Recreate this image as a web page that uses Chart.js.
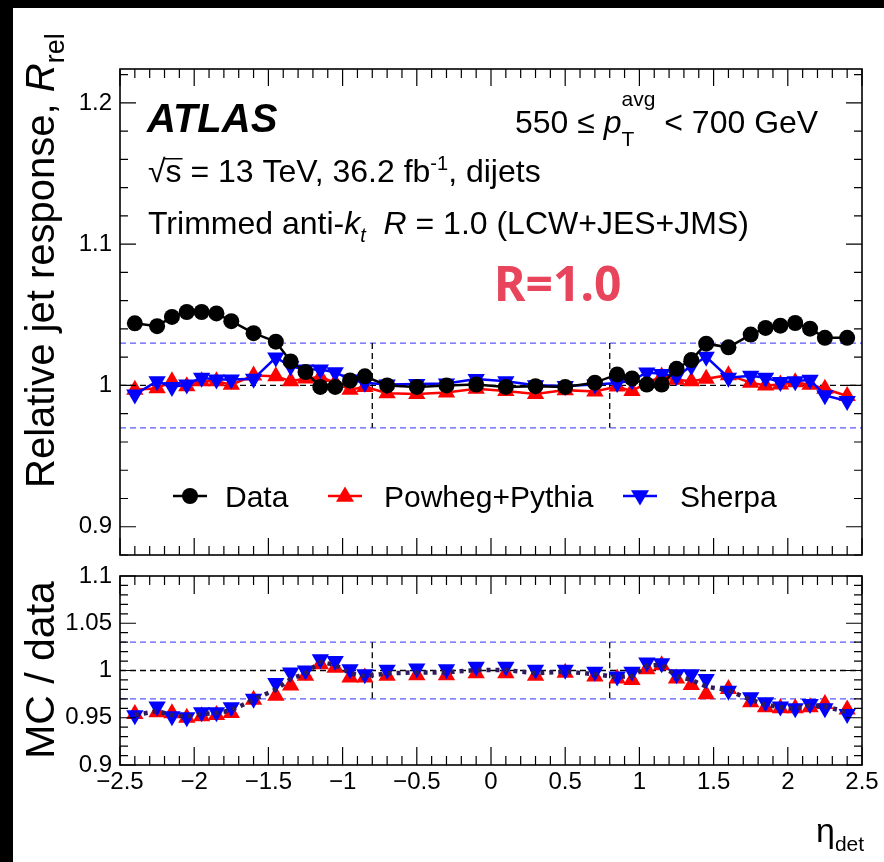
<!DOCTYPE html>
<html>
<head>
<meta charset="utf-8">
<script src="https://cdn.jsdelivr.net/npm/chart.js@4.4.1/dist/chart.umd.min.js"></script>
<style>
  html, body { margin: 0; padding: 0; background: #fff; overflow: hidden; }
  #page { position: relative; width: 884px; height: 862px; background: #fff; overflow: hidden; }
  #page canvas { position: absolute; left: 0; top: 0; }
  .band { position: absolute; background: #000; z-index: 5; }
</style>
</head>
<body>
<div id="page">
  <canvas id="c-top" width="884" height="862"></canvas>
  <canvas id="c-ratio" width="884" height="862"></canvas>
  <div class="band" style="left:0;top:0;width:13px;height:862px"></div>
  <div class="band" style="left:0;top:0;width:884px;height:8px"></div>
</div>
<script>
// eta bin centres
var eta = [-2.4, -2.25, -2.15, -2.05, -1.95, -1.85, -1.75, -1.6, -1.45, -1.35, -1.25, -1.15, -1.05, -0.95, -0.85,
  -0.7, -0.5, -0.3, -0.1, 0.1, 0.3, 0.5, 0.7,
  0.85, 0.95, 1.05, 1.15, 1.25, 1.35, 1.45, 1.6, 1.75, 1.85, 1.95, 2.05, 2.15, 2.25, 2.4];

// relative response, top panel
var respData = [1.044, 1.042, 1.0485, 1.052, 1.052, 1.051, 1.0455, 1.037, 1.031, 1.017, 1.0095, 0.999, 0.999, 1.0035, 1.0065,
  1.000, 0.999, 1.000, 1.0007, 0.999, 0.9995, 0.999, 1.002,
  1.0078, 1.005, 1.0007, 1.0007, 1.0118, 1.018, 1.0296, 1.027, 1.036, 1.0407, 1.0423, 1.0442, 1.0402, 1.0337, 1.0337];
var respPowheg = [0.997, 0.998, 1.003, 0.9995, 1.003, 1.003, 1.0005, 1.007, 1.0066, 1.003, 1.005, 1.006, 1.002, 0.997, 0.999,
  0.9945, 0.994, 0.995, 0.9977, 0.996, 0.994, 0.9967, 0.9957,
  0.9993, 0.996, 1.002, 1.0063, 1.004, 1.003, 1.0047, 1.0073, 1.002, 1.000, 1.0006, 1.0022, 1.0005, 0.9977, 0.9925];
var respSherpa = [0.9936, 1.003, 0.999, 1.0007, 1.0054, 1.0042, 1.0042, 1.0047, 1.0198, 1.0136, 1.0113, 1.0113, 1.0094, 1.0042, 1.002,
  1.0007, 1.001, 1.0014, 1.0045, 1.003, 1.0002, 0.9997, 1.0006,
  1.0017, 1.0035, 1.0092, 1.0082, 1.0065, 1.0137, 1.0203, 1.0055, 1.0068, 1.0055, 1.0025, 1.003, 1.004, 0.993, 0.989];

// MC / data, bottom panel
var ratioPowheg = [0.954, 0.9558, 0.9547, 0.950, 0.9516, 0.953, 0.955, 0.969, 0.9733, 0.984, 0.9944, 1.0067, 1.003, 0.9926, 0.9926,
  0.9944, 0.995, 0.995, 0.997, 0.997, 0.9944, 0.9977, 0.9937,
  0.9916, 0.990, 1.0014, 1.0056, 0.9916, 0.9846, 0.975, 0.9803, 0.9663, 0.961, 0.960, 0.960, 0.961, 0.9645, 0.9586];
var ratioSherpa = [0.9526, 0.9618, 0.9516, 0.9505, 0.9558, 0.9558, 0.961, 0.970, 0.9867, 0.998, 1.000, 1.012, 1.010, 1.0014, 0.996,
  1.0007, 1.002, 1.0014, 1.004, 1.004, 1.0007, 1.0007, 0.9986,
  0.9937, 0.9986, 1.0084, 1.0077, 0.996, 0.996, 0.9909, 0.9786, 0.9716, 0.9663, 0.962, 0.960, 0.9645, 0.960, 0.954];
var ratioMean = [0.953, 0.957, 0.953, 0.951, 0.954, 0.955, 0.958, 0.969, 0.980, 0.991, 0.997, 1.009, 1.006, 0.997, 0.994,
  0.997, 0.998, 0.998, 1.0005, 1.0005, 0.997, 0.999, 0.996,
  0.993, 0.994, 1.005, 1.006, 0.994, 0.990, 0.983, 0.979, 0.969, 0.964, 0.961, 0.960, 0.963, 0.962, 0.956];

var xTicks = [-2.5, -2, -1.5, -1, -0.5, 0, 0.5, 1, 1.5, 2, 2.5];
var topTicks = [0.9, 1, 1.1, 1.2];
var ratioTicks = [0.9, 0.95, 1, 1.05, 1.1];

var FONT = "'Liberation Sans', Arial, Helvetica, sans-serif";
var BLUE_DASH = '#5a5aff';

function pts(ys) {
  return eta.map(function (x, i) { return { x: x, y: ys[i] }; });
}

function fmt(v) {
  var s = String(+v.toFixed(2));
  return s.replace('-', '\u2212');
}

// ROOT like frame with inner ticks on all four sides
function frame(chart, o) {
  var ctx = chart.ctx, a = chart.chartArea, xs = chart.scales.x, ys = chart.scales.y;
  ctx.save();
  ctx.strokeStyle = '#000';
  ctx.lineWidth = 1.2;
  ctx.beginPath();
  for (var i = 0; i <= 50; i++) {
    var px = xs.getPixelForValue(-2.5 + i * 0.1);
    var len = i % 5 === 0 ? o.xMajor : o.xMinor;
    ctx.moveTo(px, a.bottom); ctx.lineTo(px, a.bottom - len);
    ctx.moveTo(px, a.top); ctx.lineTo(px, a.top + len);
  }
  var n = Math.round((o.yMax - o.yMin) / o.yStep);
  for (var j = 0; j <= n; j++) {
    var v = o.yMin + j * o.yStep;
    var py = ys.getPixelForValue(v);
    if (py < a.top - 0.5 || py > a.bottom + 0.5) continue;
    var major = Math.abs(v / o.yMajorStep - Math.round(v / o.yMajorStep)) < 1e-6;
    var l = major ? o.yMajor : o.yMinor;
    ctx.moveTo(a.left, py); ctx.lineTo(a.left + l, py);
    ctx.moveTo(a.right, py); ctx.lineTo(a.right - l, py);
  }
  ctx.stroke();
  ctx.lineWidth = 1.6;
  ctx.strokeRect(a.left, a.top, a.right - a.left, a.bottom - a.top);
  ctx.restore();
}

function refLines(chart) {
  var ctx = chart.ctx, a = chart.chartArea, xs = chart.scales.x, ys = chart.scales.y;
  ctx.save();
  ctx.lineWidth = 1.3;
  ctx.setLineDash([6, 4]);
  ctx.strokeStyle = BLUE_DASH;
  [1.03, 0.97].forEach(function (v) {
    var py = ys.getPixelForValue(v);
    ctx.beginPath(); ctx.moveTo(a.left, py); ctx.lineTo(a.right, py); ctx.stroke();
  });
  ctx.strokeStyle = '#000';
  var p1 = ys.getPixelForValue(1);
  ctx.beginPath(); ctx.moveTo(a.left, p1); ctx.lineTo(a.right, p1); ctx.stroke();
  [-0.8, 0.8].forEach(function (v) {
    var px = xs.getPixelForValue(v);
    ctx.beginPath();
    ctx.moveTo(px, ys.getPixelForValue(1.03));
    ctx.lineTo(px, ys.getPixelForValue(0.97));
    ctx.stroke();
  });
  ctx.restore();
}

// draw text runs: [text, font, dy, advance?]
function runs(ctx, x, y, list) {
  list.forEach(function (r) {
    ctx.font = r[1];
    ctx.fillText(r[0], x, y + (r[2] || 0));
    if (r[3] !== false) x += ctx.measureText(r[0]).width;
  });
  return x;
}

function marker(ctx, type, x, y, r, color) {
  ctx.fillStyle = color;
  ctx.beginPath();
  if (type === 'circle') {
    ctx.arc(x, y, r, 0, Math.PI * 2);
  } else {
    var s = type === 'up' ? 1 : -1;
    ctx.moveTo(x, y - s * r);
    ctx.lineTo(x + r * 0.95, y + s * r * 0.6);
    ctx.lineTo(x - r * 0.95, y + s * r * 0.6);
    ctx.closePath();
  }
  ctx.fill();
}

var topDeco = {
  id: 'topDeco',
  beforeDatasetsDraw: function (chart) { refLines(chart); },
  afterDatasetsDraw: function (chart) {
    frame(chart, { xMajor: 17, xMinor: 9, yMin: 0.88, yMax: 1.22, yStep: 0.02, yMajorStep: 0.1, yMajor: 16, yMinor: 8 });
  },
  afterDraw: function (chart) {
    var ctx = chart.ctx;
    ctx.save();
    ctx.fillStyle = '#000';
    ctx.textBaseline = 'alphabetic';
    ctx.textAlign = 'left';

    ctx.font = 'italic bold 40px ' + FONT;
    ctx.fillText('ATLAS', 147, 132);

    var f = '32px ' + FONT, fi = 'italic 32px ' + FONT, fs = '21px ' + FONT;
    runs(ctx, 515, 133, [
      ['550 \u2264 ', f], ['p', fi], ['T', fs, 13, false], ['avg', fs, -27], [' < 700 GeV', f]
    ]);

    var g = '32px ' + FONT, gi = 'italic 32px ' + FONT, gs = '20px ' + FONT;
    var xs = runs(ctx, 148, 182, [['\u221A', g]]);
    ctx.font = g;
    var sw = ctx.measureText('s').width;
    ctx.fillRect(xs - 1, 158, sw + 2, 1.5);
    runs(ctx, xs, 182, [['s = 13 TeV, 36.2 fb', g], ['-1', gs, -12], [', dijets', g]]);

    runs(ctx, 148, 234, [
      ['Trimmed anti-', g], ['k', gi], ['t', 'italic 20px ' + FONT, 8], ['  ', g], ['R', gi], [' = 1.0 (LCW+JES+JMS)', g]
    ]);

    ctx.fillStyle = '#e8445b';
    ctx.font = "bold 48px 'Noto Sans', 'Open Sans', sans-serif";
    ctx.fillText('R=1.0', 494, 301);

    // legend
    var ly = 496, lf = '30px ' + FONT;
    var items = [
      { x: 190, tx: 225, type: 'circle', color: '#000', text: 'Data' },
      { x: 345, tx: 384, type: 'up', color: '#ff0000', text: 'Powheg+Pythia' },
      { x: 640, tx: 680, type: 'down', color: '#0000ff', text: 'Sherpa' }
    ];
    items.forEach(function (it) {
      ctx.strokeStyle = it.color;
      ctx.lineWidth = 2.5;
      ctx.beginPath(); ctx.moveTo(it.x - 17, ly); ctx.lineTo(it.x + 17, ly); ctx.stroke();
      marker(ctx, it.type, it.x, ly, it.type === 'circle' ? 8 : 9.5, it.color);
      ctx.fillStyle = '#000';
      ctx.font = lf;
      ctx.fillText(it.text, it.tx, ly + 11);
    });

    // y title
    var tf = '40px ' + FONT;
    var title = [['Relative jet response, ', tf], ['R', 'italic ' + tf], ['rel', '27px ' + FONT, 10]];
    ctx.translate(54, 488);
    ctx.rotate(-Math.PI / 2);
    ctx.fillStyle = '#000';
    runs(ctx, 0, 0, title);
    ctx.restore();
  }
};

var ratioDeco = {
  id: 'ratioDeco',
  beforeDatasetsDraw: function (chart) { refLines(chart); },
  afterDatasetsDraw: function (chart) {
    frame(chart, { xMajor: 18, xMinor: 9, yMin: 0.9, yMax: 1.1, yStep: 0.01, yMajorStep: 0.05, yMajor: 16, yMinor: 8 });
  },
  afterDraw: function (chart) {
    var ctx = chart.ctx;
    ctx.save();
    ctx.fillStyle = '#000';
    ctx.font = '41px ' + FONT;
    var t = 'MC / data';
    var w = ctx.measureText(t).width;
    ctx.translate(54, 670 + w / 2);
    ctx.rotate(-Math.PI / 2);
    ctx.fillText(t, 0, 0);
    ctx.restore();

    ctx.save();
    ctx.fillStyle = '#000';
    runs(ctx, 816, 842, [['\u03B7', '34px ' + FONT], ['det', '21px ' + FONT, 9]]);
    ctx.restore();
  }
};

var tickFont = { family: FONT, size: 24 };

new Chart(document.getElementById('c-top'), {
  type: 'line',
  data: {
    datasets: [
      { label: 'Data', data: pts(respData), borderColor: '#000', backgroundColor: '#000', borderWidth: 2.5,
        pointStyle: 'circle', pointRadius: 8, pointBorderWidth: 0 },
      { label: 'Sherpa', data: pts(respSherpa), borderColor: '#0000ff', backgroundColor: '#0000ff', borderWidth: 2.5,
        pointStyle: 'triangle', rotation: 180, pointRadius: 10, pointBorderWidth: 0 },
      { label: 'Powheg+Pythia', data: pts(respPowheg), borderColor: '#ff0000', backgroundColor: '#ff0000', borderWidth: 2.5,
        pointStyle: 'triangle', pointRadius: 10, pointBorderWidth: 0 }
    ]
  },
  options: {
    responsive: false,
    animation: false,
    layout: { padding: { left: 0, right: 22, top: 69, bottom: 307 } },
    plugins: { legend: { display: false }, tooltip: { enabled: false } },
    elements: { line: { tension: 0 } },
    scales: {
      x: { type: 'linear', min: -2.5, max: 2.5, display: false },
      y: {
        min: 0.88, max: 1.224,
        afterFit: function (s) { s.width = 120; },
        afterBuildTicks: function (s) { s.ticks = topTicks.map(function (v) { return { value: v }; }); },
        grid: { display: false, drawTicks: false },
        border: { display: false },
        ticks: { padding: 8, font: tickFont, color: '#000', callback: fmt }
      }
    }
  },
  plugins: [topDeco]
});

new Chart(document.getElementById('c-ratio'), {
  type: 'line',
  data: {
    datasets: [
      { label: 'mean', data: pts(ratioMean), borderColor: '#2e1a5c', borderWidth: 4.5, borderDash: [4, 5],
        pointRadius: 0, fill: false },
      { label: 'Sherpa', data: pts(ratioSherpa), showLine: false, backgroundColor: '#0000ff', borderColor: '#0000ff',
        pointStyle: 'triangle', rotation: 180, pointRadius: 10, pointBorderWidth: 0 },
      { label: 'Powheg+Pythia', data: pts(ratioPowheg), showLine: false, backgroundColor: '#ff0000', borderColor: '#ff0000',
        pointStyle: 'triangle', pointRadius: 10, pointBorderWidth: 0 }
    ]
  },
  options: {
    responsive: false,
    animation: false,
    layout: { padding: { left: 0, right: 22, top: 576, bottom: 0 } },
    plugins: { legend: { display: false }, tooltip: { enabled: false } },
    scales: {
      x: {
        type: 'linear', min: -2.5, max: 2.5,
        afterFit: function (s) { s.height = 97; },
        afterBuildTicks: function (s) { s.ticks = xTicks.map(function (v) { return { value: v }; }); },
        grid: { display: false, drawTicks: false },
        border: { display: false },
        ticks: { padding: 3, font: tickFont, color: '#000', autoSkip: false, maxRotation: 0, callback: fmt }
      },
      y: {
        min: 0.9, max: 1.1,
        afterFit: function (s) { s.width = 120; },
        afterBuildTicks: function (s) { s.ticks = ratioTicks.map(function (v) { return { value: v }; }); },
        grid: { display: false, drawTicks: false },
        border: { display: false },
        ticks: { padding: 8, font: tickFont, color: '#000', callback: fmt }
      }
    }
  },
  plugins: [ratioDeco]
});
</script>
</body>
</html>
